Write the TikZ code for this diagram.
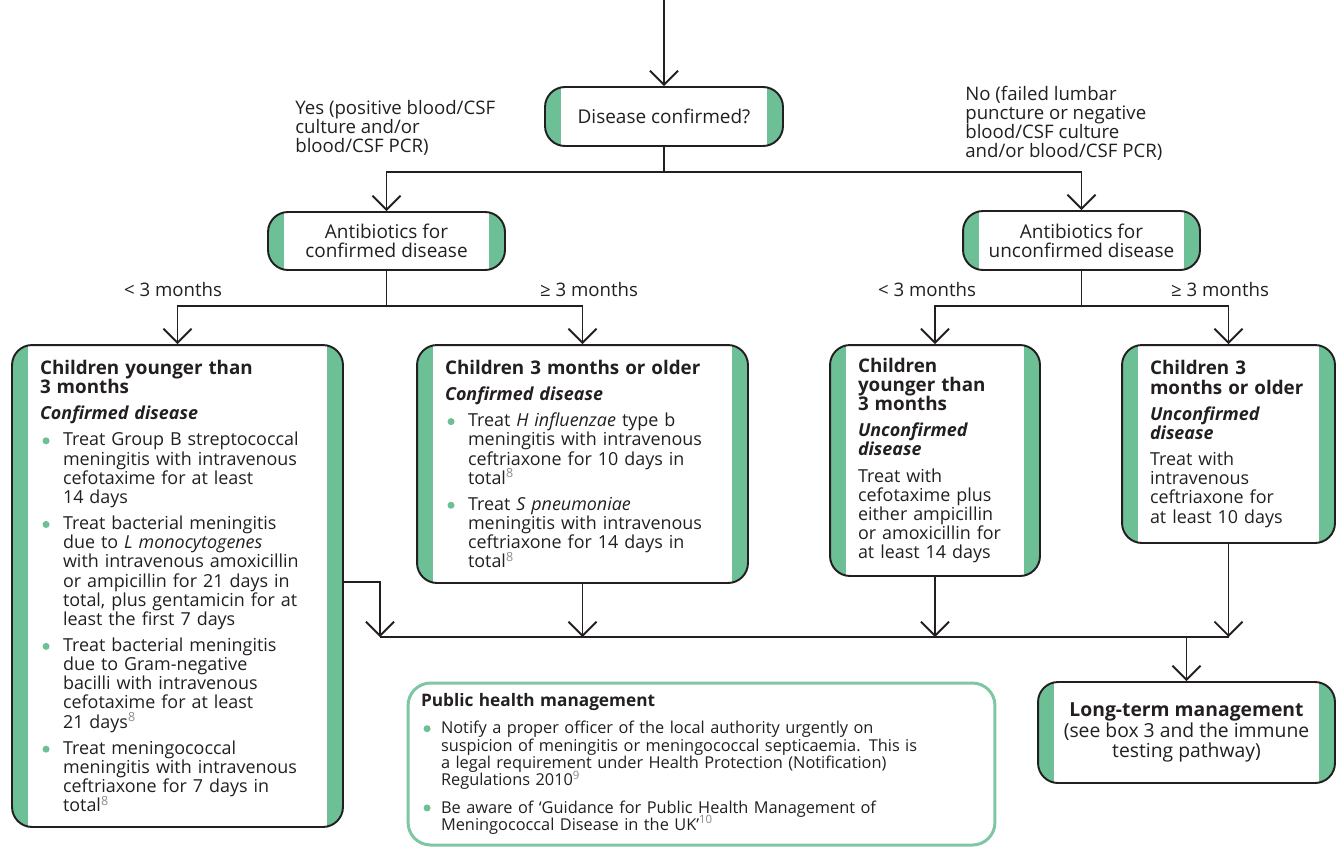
\documentclass[tikz,border=0pt]{standalone}
\usepackage{fontspec}
\setmainfont{Open Sans}
\usetikzlibrary{arrows.meta}
\definecolor{ink}{HTML}{231F20}
\definecolor{leaf}{HTML}{6DBF95}
\definecolor{paleleaf}{HTML}{7FC6A3}
\definecolor{supgrey}{HTML}{8A8A8A}
\newlength{\bulwd}
\newcommand{\tight}{\lineskiplimit=-10pt\relax}
\newcommand{\boxfont}{\fontsize{10.2}{10.9}\selectfont\tight\parindent=0pt\parskip=4pt\relax\setlength{\bulwd}{0.46cm}}
\newcommand{\notefont}{\fontsize{9.3}{9.9}\selectfont\tight\parindent=0pt\parskip=5.5pt\relax\setlength{\bulwd}{0.4cm}}
\newcommand{\askfont}{\fontsize{10.8}{10.8}\selectfont\tight}
\newcommand{\labelfont}{\fontsize{10.6}{10.8}\selectfont\tight}
\newcommand{\longfont}{\fontsize{11}{11.8}\selectfont\tight}
\newcommand{\headfont}{\fontsize{10.7}{10.9}\selectfont\bfseries}
\newcommand{\bul}{\par\hangindent=\bulwd\hangafter=1\makebox[\bulwd][l]{\hspace{0.05cm}\raisebox{0.9pt}{\tikz\fill[leaf] (0,0) circle (2pt);}}}
\newcommand{\refnum}[1]{\textsuperscript{\textcolor{supgrey}{#1}}}
\tikzset{
  stripbox/.style={draw=ink, line width=1.1pt, fill=white, rounded corners=0.4cm, text=ink,
    path picture={
      \fill[leaf,sharp corners] (path picture bounding box.south west) rectangle ([xshift=0.32cm]path picture bounding box.north west);
      \fill[leaf,sharp corners] (path picture bounding box.south east) rectangle ([xshift=-0.32cm]path picture bounding box.north east);}},
  askbox/.style={stripbox, align=center, font=\askfont},
  treatbox/.style={stripbox, align=left, inner xsep=0.56cm, font=\boxfont},
  notebox/.style={draw=paleleaf, line width=1.7pt, rounded corners=0.45cm, fill=white, text=ink, align=left, inner xsep=0.26cm, font=\notefont},
  branch/.style={font=\labelfont, align=left, inner sep=0pt, text=ink},
  flow/.style={draw=ink, line width=1.1pt},
  arr/.style={-{Straight Barb[length=0.28cm,width=0.56cm]}},
}
\begin{document}
\begin{tikzpicture}[x=0.02cm,y=-0.02cm]
\useasboundingbox (0,0) rectangle (1341,850);

\node[askbox, minimum width=4.76cm, minimum height=1.18cm] (conf) at (664,116.5) {Disease confirmed?};
\node[askbox, minimum width=4.74cm, minimum height=1.16cm] (abc) at (386.5,241) {Antibiotics for\\confirmed disease};
\node[askbox, minimum width=4.74cm, minimum height=1.18cm] (abu) at (1081.5,240.5) {Antibiotics for\\unconfirmed disease};

\node[treatbox, text width=5.5cm, minimum height=9.64cm] (young) at (177.5,586) {%
{\headfont Children younger than\newline 3 months}\par
{\bfseries\itshape Confirmed disease}
\bul Treat Group B streptococcal\newline meningitis with intravenous\newline cefotaxime for at least\newline 14 days
\bul Treat bacterial meningitis\newline due to \textit{L monocytogenes}\newline with intravenous amoxicillin\newline or ampicillin for 21 days in\newline total, plus gentamicin for at\newline least the first 7 days
\bul Treat bacterial meningitis\newline due to Gram-negative\newline bacilli with intravenous\newline cefotaxime for at least\newline 21 days\refnum{8}
\bul Treat meningococcal\newline meningitis with intravenous\newline ceftriaxone for 7 days in\newline total\refnum{8}\par};

\node[treatbox, text width=5.5cm, minimum height=4.76cm] (older) at (582.5,464) {%
{\headfont Children 3 months or older}\par
{\bfseries\itshape Confirmed disease}
\bul Treat \textit{H influenzae} type b\newline meningitis with intravenous\newline ceftriaxone for 10 days in\newline total\refnum{8}
\bul Treat \textit{S pneumoniae}\newline meningitis with intravenous\newline ceftriaxone for 14 days in\newline total\refnum{8}\par};

\node[treatbox, text width=3.08cm, minimum height=4.62cm] (uyoung) at (935,460.5) {%
{\headfont Children\newline younger than\newline 3 months}\par
{\bfseries\itshape Unconfirmed\newline disease}\par
Treat with\newline cefotaxime plus\newline either ampicillin\newline or amoxicillin for\newline at least 14 days\par};

\node[treatbox, text width=3.14cm, minimum height=3.96cm] (uolder) at (1228.5,444) {%
{\headfont Children 3\newline months or older}\par
{\bfseries\itshape Unconfirmed\newline disease}\par
Treat with\newline intravenous\newline ceftriaxone for\newline at least 10 days\par};

\node[askbox, font=\longfont, minimum width=5.94cm, minimum height=2.02cm] (longterm) at (1186.5,732.5) {{\bfseries Long-term management}\\(see box 3 and the immune\\testing pathway)};

\node[notebox, text width=11.22cm, minimum height=3.24cm] (public) at (701.5,764) {%
{\fontsize{9.8}{9.9}\selectfont\bfseries Public health management}
\bul Notify a proper officer of the local authority urgently on\newline suspicion of meningitis or meningococcal septicaemia. This is\newline a legal requirement under Health Protection (Notification)\newline Regulations 2010\refnum{9}
\bul Be aware of `Guidance for Public Health Management of\newline Meningococcal Disease in the UK'\refnum{10}\par};

\node[branch, anchor=north west] (yes) at (295,100) {Yes (positive blood/CSF\\culture and/or\\blood/CSF PCR)};
\node[branch, anchor=north west] (no) at (965,86) {No (failed lumbar\\puncture or negative\\blood/CSF culture\\and/or blood/CSF PCR)};
\node[branch] (lessL) at (173,290) {< 3 months};
\node[branch] (moreL) at (589,290) {≥ 3 months};
\node[branch] (lessR) at (927,290) {< 3 months};
\node[branch] (moreR) at (1220,290) {≥ 3 months};

\coordinate (entry) at (664,0);
\draw[flow,arr] (entry) -- (conf.north);
\draw[flow] (conf.south) -- ++(0,25) coordinate (split1);
\draw[flow,arr] (split1) -| (abc.north);
\draw[flow,arr] (split1) -| (abu.north);
\draw[flow] (abc.south) -- ++(0,35) coordinate (split2);
\draw[flow,arr] (split2) -| (young.north);
\draw[flow,arr] (split2) -| (older.north);
\draw[flow] (abu.south) -- ++(0,35) coordinate (split3);
\draw[flow,arr] (split3) -| (uyoung.north);
\draw[flow,arr] (split3) -| (uolder.north);
\coordinate (mergeL) at (380,637);
\coordinate (mergeR) at (uolder.south |- mergeL);
\draw[flow] (mergeL) -- (mergeR);
\draw[flow,arr] (young.east |- 0,582) -| (mergeL);
\draw[flow,arr] (older.south) -- (older.south |- mergeL);
\draw[flow,arr] (uyoung.south) -- (uyoung.south |- mergeL);
\draw[flow,arr] (uolder.south) -- (mergeR);
\draw[flow,arr] (longterm.north |- mergeL) -- (longterm.north);
\end{tikzpicture}
\end{document}
